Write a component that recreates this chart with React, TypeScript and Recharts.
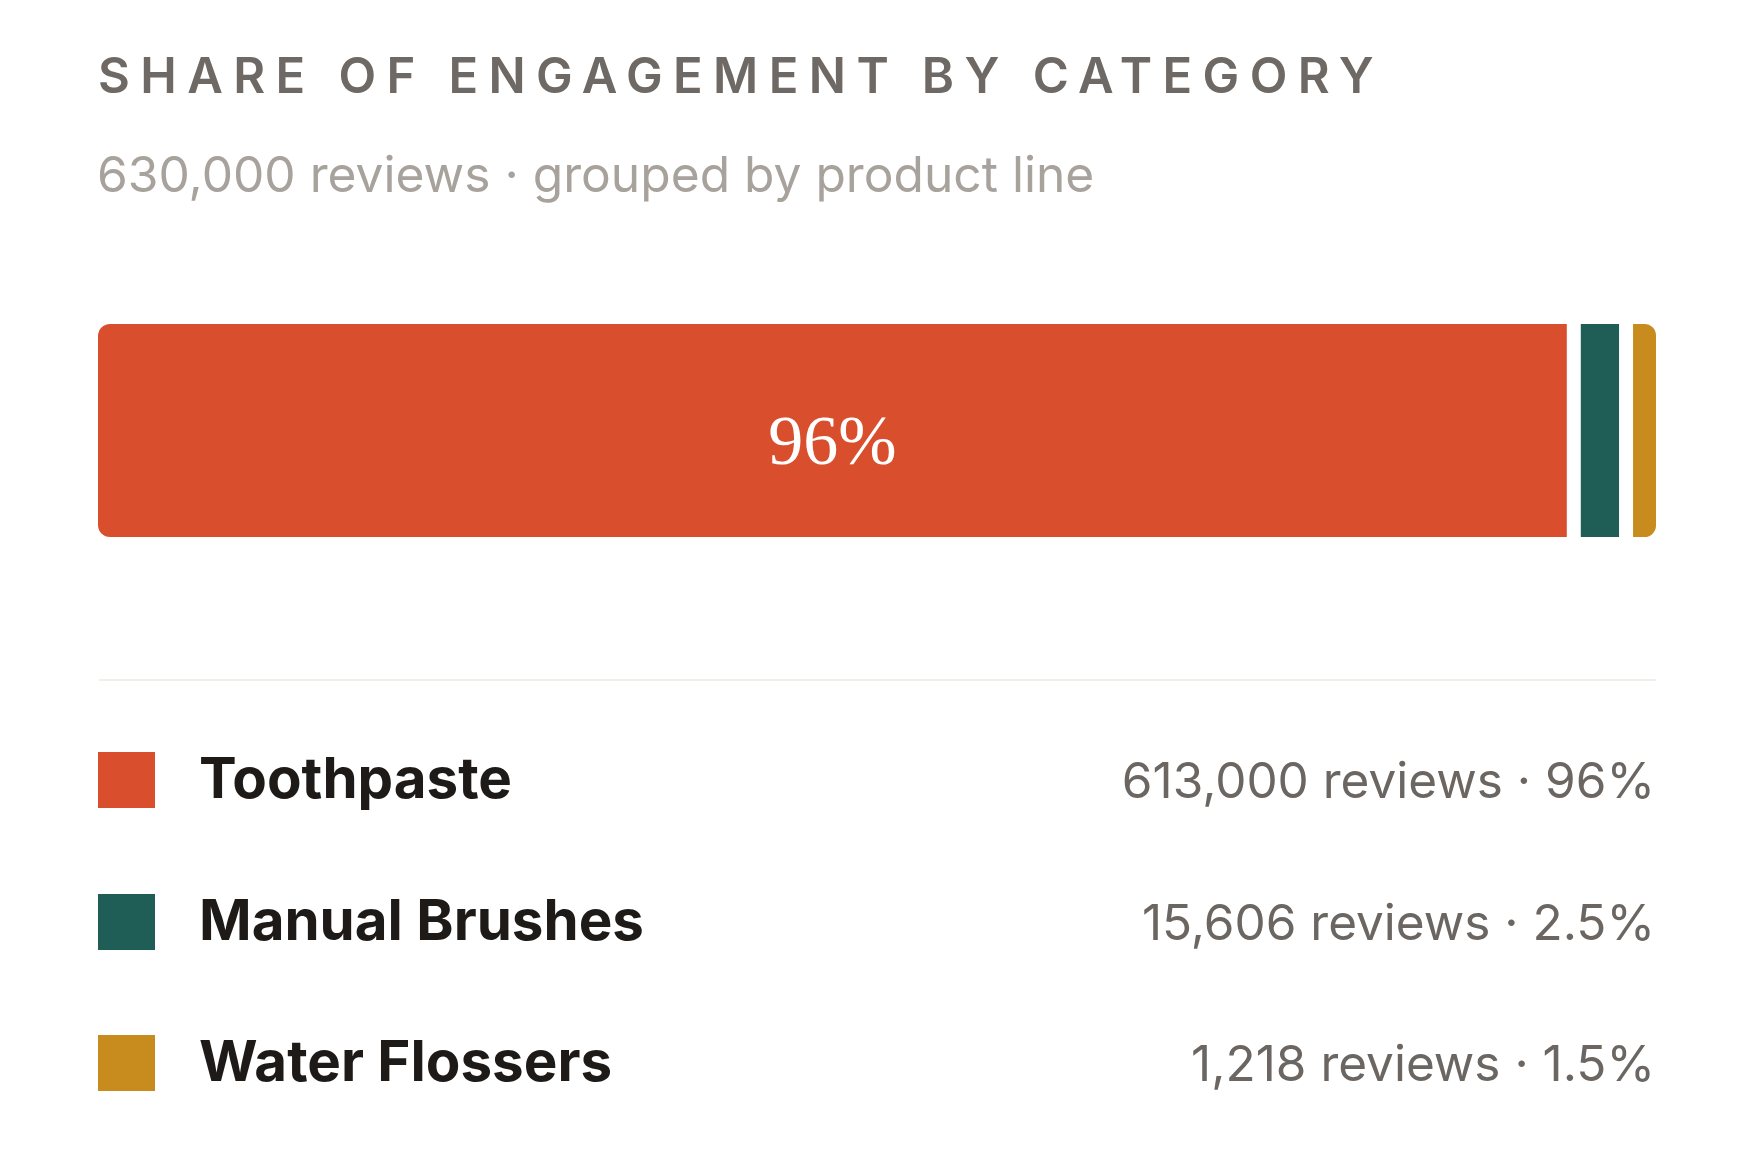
import { BarChart, Bar, XAxis, YAxis, LabelList, Rectangle } from "recharts"

const categories = ["Toothpaste", "Manual Brushes", "Water Flossers"]
const reviews = [613000, 15606, 1218]
const shares = [96, 2.5, 1.5]
const colors = ["#d94f2e", "#1f5e57", "#c88b1d"]
const totalReviews = "630,000"

const SANS = 'Inter, "Liberation Sans", Arial, sans-serif'
const GAP = 14

// one row, one key per category, stacked left to right
const row: Record<string, number | string> = { name: "engagement" }
categories.forEach((c, i) => {
  row[c] = shares[i]
})
const data = [row]

function segmentShape(index: number) {
  const last = categories.length - 1
  return (props: any) => {
    const { x, y, width, height, fill } = props
    const radius: [number, number, number, number] =
      index === 0 ? [12, 0, 0, 12] : index === last ? [0, 12, 12, 0] : [0, 0, 0, 0]
    return <Rectangle x={x + index * GAP} y={y} width={width} height={height} fill={fill} radius={radius} />
  }
}

function shareLabel(props: any) {
  const { x, y, width, height, value } = props
  return (
    <text
      x={x + width / 2}
      y={y + height / 2 + 33}
      textAnchor="middle"
      fill="#ffffff"
      fontSize={70}
      fontFamily='"Liberation Serif", Georgia, serif'
    >
      {value}%
    </text>
  )
}

export default function App() {
  return (
    <div style={{ position: "absolute", left: 0, top: 0, width: 1759, height: 1163, background: "#ffffff" }}>
      <div
        style={{
          position: "absolute",
          left: 98,
          top: 51,
          fontFamily: SANS,
          fontWeight: 600,
          fontSize: 49,
          lineHeight: "49px",
          letterSpacing: 10.4,
          color: "#6e6964",
          whiteSpace: "nowrap",
        }}
      >
        SHARE OF ENGAGEMENT BY CATEGORY
      </div>
      <div
        style={{
          position: "absolute",
          left: 97,
          top: 149,
          fontFamily: SANS,
          fontSize: 49.7,
          lineHeight: "50px",
          color: "#a8a29d",
          whiteSpace: "nowrap",
        }}
      >
        {totalReviews} reviews · grouped by product line
      </div>

      <div style={{ position: "absolute", left: 98, top: 324 }}>
        <BarChart
          width={1558}
          height={213}
          data={data}
          layout="vertical"
          barCategoryGap={0}
          margin={{ top: 0, right: GAP * (categories.length - 1), bottom: 0, left: 0 }}
        >
          <XAxis type="number" domain={[0, 100]} hide />
          <YAxis type="category" dataKey="name" hide />
          {categories.map((c, i) => (
            <Bar key={c} dataKey={c} stackId="a" fill={colors[i]} shape={segmentShape(i)} isAnimationActive={false}>
              {i === 0 && <LabelList dataKey={c} content={shareLabel} />}
            </Bar>
          ))}
        </BarChart>
      </div>

      <div style={{ position: "absolute", left: 99, top: 679, width: 1557, height: 2, background: "#f2efeb" }} />

      {categories.map((c, i) => (
        <div
          key={c}
          style={{
            position: "absolute",
            left: 98,
            top: 780 + i * 141.5 - 28,
            width: 1557,
            height: 56,
            display: "flex",
            alignItems: "center",
            fontFamily: SANS,
          }}
        >
          <div style={{ width: 57, height: 56, background: colors[i], flexShrink: 0 }} />
          <div
            style={{
              marginLeft: 44,
              position: "relative",
              top: -2,
              fontSize: 56.5,
              lineHeight: "56px",
              fontWeight: 700,
              color: "#1d1a18",
              whiteSpace: "nowrap",
            }}
          >
            {c}
          </div>
          <div style={{ marginLeft: "auto", fontSize: 49.5, lineHeight: "50px", color: "#6b6661", whiteSpace: "nowrap" }}>
            {reviews[i].toLocaleString("en-US")} reviews · {shares[i]}%
          </div>
        </div>
      ))}
    </div>
  )
}
